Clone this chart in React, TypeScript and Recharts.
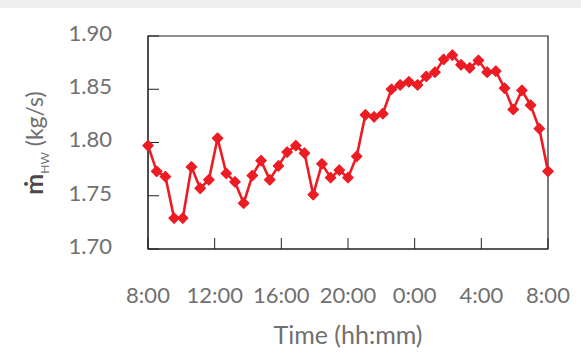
import { LineChart, Line, XAxis, YAxis, ReferenceArea } from 'recharts';

// hot water mass flow, 47 samples evenly spread over 24 h starting at 8:00
const flowValues = [
  1.797, 1.773, 1.768, 1.729, 1.729, 1.777, 1.757, 1.765, 1.804, 1.771,
  1.763, 1.743, 1.769, 1.783, 1.765, 1.778, 1.791, 1.797, 1.790, 1.751,
  1.780, 1.767, 1.774, 1.767, 1.787, 1.826, 1.824, 1.827, 1.850, 1.854,
  1.857, 1.854, 1.862, 1.866, 1.878, 1.882, 1.873, 1.870, 1.877, 1.866,
  1.867, 1.851, 1.831, 1.849, 1.835, 1.813, 1.773,
];
const hourTicks = [0, 4, 8, 12, 16, 20, 24];
const hourLabels = ['8:00', '12:00', '16:00', '20:00', '0:00', '4:00', '8:00'];
const yTicks = [1.7, 1.75, 1.8, 1.85, 1.9];

const chartData = flowValues.map((v, i) => ({
  t: (i * 24) / (flowValues.length - 1),
  flow: v,
}));

const RED = '#ec1c24';
const TEXT = '#707070';
const FONT = 'Lato, "Open Sans", sans-serif';

const Diamond = (props: any) => {
  const { cx, cy, index } = props;
  if (cx == null || cy == null) return <g key={index} />;
  const r = 5.2;
  return (
    <path
      key={index}
      d={`M${cx},${cy - r} L${cx + r},${cy} L${cx},${cy + r} L${cx - r},${cy} Z`}
      fill={RED}
      stroke={RED}
      strokeWidth={1.2}
      strokeLinejoin="round"
    />
  );
};

const YTick = (props: any) => {
  const { x, y, payload } = props;
  return (
    <text x={x} y={y - 3} dy="0.355em" textAnchor="end" fill={TEXT} fontSize={22} fontFamily={FONT}>
      {payload.value.toFixed(2)}
    </text>
  );
};

const XTick = (props: any) => {
  const { x, y, index } = props;
  return (
    <text x={x} y={y} dy="0.355em" textAnchor="middle" fill={TEXT} fontSize={22} fontFamily={FONT}>
      {hourLabels[index]}
    </text>
  );
};

const YLabel = () => (
  <text
    transform="translate(43, 143) rotate(-90)"
    textAnchor="middle"
    fontFamily={FONT}
    fill={TEXT}
  >
    <tspan fontSize={25} fontWeight="bold" fill="#4a4a4a">ṁ</tspan>
    <tspan fontSize={12} dy={6}>HW</tspan>
    <tspan fontSize={23} dy={-6}> (kg/s)</tspan>
  </text>
);

const App = () => {
  return (
    <div style={{ position: 'absolute', left: 0, top: 0, width: 581, height: 352, background: '#fff' }}>
      <div style={{ position: 'absolute', left: 0, top: 0, width: 581, height: 8, background: '#eeeeee' }} />
      <LineChart
        width={581}
        height={352}
        data={chartData}
        margin={{ top: 36, right: 33, bottom: 0, left: 0 }}
      >
        <XAxis
          dataKey="t"
          type="number"
          domain={[0, 24]}
          ticks={hourTicks}
          interval={0}
          height={103}
          stroke="#222"
          tickSize={-11}
          tickMargin={57}
          tick={<XTick />}
          label={{
            value: 'Time (hh:mm)',
            position: 'insideBottom',
            offset: 8,
            fill: TEXT,
            fontSize: 25,
            fontFamily: FONT,
          }}
        />
        <YAxis
          type="number"
          domain={[1.7, 1.9]}
          ticks={yTicks}
          interval={0}
          width={148}
          stroke="#222"
          tickSize={-11}
          tickMargin={47}
          tick={<YTick />}
          label={() => <YLabel />}
        />
        <ReferenceArea x1={0} x2={24} y1={1.7} y2={1.9} fill="none" stroke="#222" strokeWidth={1.2} />
        <Line
          type="linear"
          dataKey="flow"
          stroke={RED}
          strokeWidth={2.6}
          dot={Diamond}
          activeDot={false}
          isAnimationActive={false}
        />
      </LineChart>
    </div>
  );
};

export default App;
